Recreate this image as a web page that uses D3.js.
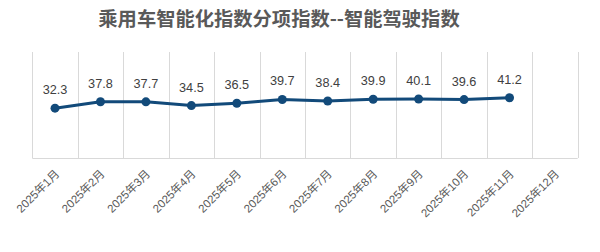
<!DOCTYPE html>
<html><head><meta charset="utf-8">
<script src="https://cdn.jsdelivr.net/npm/d3@7/dist/d3.min.js"></script>
<style>body{margin:0;background:#fff;}svg{display:block;}</style>
</head><body>
<svg id="c" width="600" height="252"></svg>
<script>
const title = "乘用车智能化指数分项指数--智能驾驶指数";
const categories = ["2025年1月","2025年2月","2025年3月","2025年4月","2025年5月","2025年6月","2025年7月","2025年8月","2025年9月","2025年10月","2025年11月","2025年12月"];
const values = [32.3,37.8,37.7,34.5,36.5,39.7,38.4,39.9,40.1,39.6,41.2,null];
const yDomain = [-10, 80];

const svg = d3.select("#c");
const m = {left:32.3, right:577.7, top:52, bottom:158};
const x = d3.scaleBand().domain(categories).range([m.left, m.right]).padding(0);
const y = d3.scaleLinear().domain(yDomain).range([m.bottom, m.top]);

svg.append("text").attr("x", 279).attr("y", 26).attr("text-anchor","middle")
  .attr("font-family","'Noto Sans CJK SC', sans-serif").attr("font-weight","bold")
  .attr("font-size",19.3).attr("fill","#595959").text(title);

// vertical grid lines
const edges = categories.map(c => x(c)).concat([x(categories[categories.length-1]) + x.bandwidth()]);
svg.append("g").selectAll("line").data(edges).join("line")
  .attr("x1", d => Math.round(d)+0.5).attr("x2", d => Math.round(d)+0.5)
  .attr("y1", m.top).attr("y2", m.bottom)
  .attr("stroke","#d9d9d9").attr("stroke-width",1);

// x axis
const xAxis = svg.append("g").attr("transform",`translate(0,${m.bottom+0.5})`)
  .call(d3.axisBottom(x).tickSize(0).tickPadding(0));
xAxis.select(".domain").attr("stroke","#d9d9d9").attr("d",`M${m.left},0H${m.right}`);
xAxis.selectAll(".tick text")
  .attr("font-family","'Liberation Sans', 'Noto Sans CJK SC', sans-serif").attr("font-size",11.5).attr("fill","#595959")
  .attr("text-anchor","end").attr("dy",null).attr("y",0)
  .attr("transform","translate(5,16) rotate(-45)");

const pts = categories.map((c,i)=>({c, v:values[i]})).filter(d => d.v != null);
const line = d3.line().x(d => x(d.c)+x.bandwidth()/2).y(d => y(d.v));
svg.append("path").datum(pts).attr("d", line).attr("fill","none")
  .attr("stroke","#124a7a").attr("stroke-width",3).attr("stroke-linejoin","round");
svg.append("g").selectAll("circle").data(pts).join("circle")
  .attr("cx", d => x(d.c)+x.bandwidth()/2).attr("cy", d => y(d.v)).attr("r",4.5)
  .attr("fill","#124a7a");
svg.append("g").selectAll("text").data(pts).join("text")
  .attr("x", d => x(d.c)+x.bandwidth()/2).attr("y", d => y(d.v)-14)
  .attr("text-anchor","middle").attr("font-family","'Liberation Sans', Arial, sans-serif")
  .attr("font-size",12.7).attr("fill","#404040").text(d => d.v.toFixed(1));
</script>
</body></html>
